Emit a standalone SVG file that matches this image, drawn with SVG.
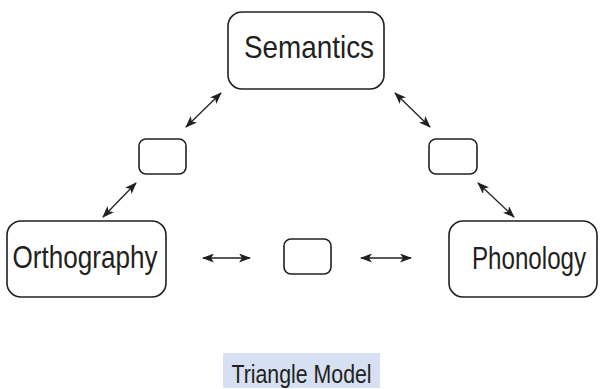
<svg xmlns="http://www.w3.org/2000/svg" width="601" height="389" viewBox="0 0 601 389">
<defs>
<style>
.box{fill:#fff;stroke:#231f20;stroke-width:1.6}
.lbl{font-family:"Liberation Sans",Arial,sans-serif;fill:#231f20;text-anchor:middle}
.con{stroke:#231f20;stroke-width:1.3;fill:none;marker-start:url(#ah);marker-end:url(#ah)}
</style>
<marker id="ah" viewBox="0 0 12 9" refX="11" refY="4.5" markerWidth="12" markerHeight="9" markerUnits="userSpaceOnUse" orient="auto-start-reverse">
<path d="M0,0 L12,4.5 L0,9 L3,4.5 z" fill="#231f20"/>
</marker>
</defs>
<rect width="601" height="389" fill="#fff"/>
<g id="connectors">
<line class="con" x1="186" y1="127" x2="221" y2="93"/>
<line class="con" x1="103" y1="217" x2="136" y2="183"/>
<line class="con" x1="395" y1="93" x2="430" y2="127"/>
<line class="con" x1="478" y1="183" x2="514" y2="217"/>
<line class="con" x1="203" y1="258" x2="250" y2="258"/>
<line class="con" x1="361" y1="258" x2="411" y2="258"/>
</g>
<g id="semantics">
<rect class="box" x="228" y="12" width="156" height="77" rx="14"/>
<text class="lbl" transform="translate(309,58) scale(0.87,1)" font-size="32">Semantics</text>
</g>
<g id="orthography">
<rect class="box" x="7" y="221" width="159" height="76" rx="14"/>
<text class="lbl" transform="translate(85,268) scale(0.815,1)" font-size="32">Orthography</text>
</g>
<g id="phonology">
<rect class="box" x="449" y="221" width="148" height="76" rx="14"/>
<text class="lbl" transform="translate(529,269) scale(0.755,1)" font-size="32">Phonology</text>
</g>
<g id="hidden-left">
<rect class="box" x="139" y="139" width="47" height="35" rx="7"/>
</g>
<g id="hidden-right">
<rect class="box" x="429" y="139" width="48" height="35" rx="7"/>
</g>
<g id="hidden-center">
<rect class="box" x="284" y="239" width="47" height="35" rx="7"/>
</g>
<g id="title">
<rect x="223" y="353" width="157" height="35" fill="#d6e0f2"/>
<text class="lbl" transform="translate(301.5,383) scale(0.853,1)" font-size="25">Triangle Model</text>
</g>
</svg>
